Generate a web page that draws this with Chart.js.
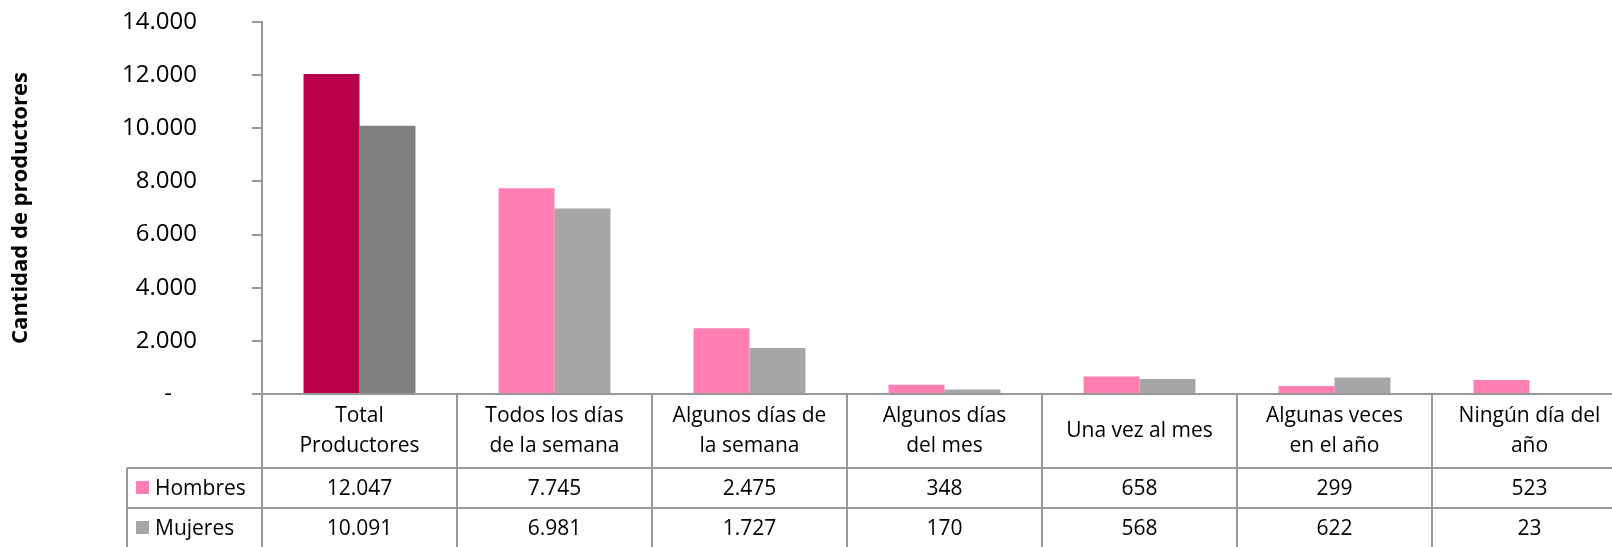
<!DOCTYPE html>
<html>
<head>
<meta charset="utf-8">
<script src="https://cdn.jsdelivr.net/npm/chart.js@4"></script>
<style>
  html, body { margin: 0; padding: 0; background: #fff; }
  #wrap { width: 1612px; height: 547px; overflow: hidden; position: relative; }
</style>
</head>
<body>
<div id="wrap"><canvas id="grafico" width="1640" height="560"></canvas></div>
<script>
// datos
const categorias = [
  ['Total', 'Productores'],
  ['Todos los días', 'de la semana'],
  ['Algunos días de', 'la semana'],
  ['Algunos días', 'del mes'],
  ['Una vez al mes'],
  ['Algunas veces', 'en el año'],
  ['Ningún día del', 'año']
];
const hombres = [12047, 7745, 2475, 348, 658, 299, 523];
const mujeres = [10091, 6981, 1727, 170, 568, 622, 23];
const series = ['Hombres', 'Mujeres'];
const yTicks = [0, 2000, 4000, 6000, 8000, 10000, 12000, 14000];

const colHombres = ['#B8004A', '#FF7FB2', '#FF7FB2', '#FF7FB2', '#FF7FB2', '#FF7FB2', '#FF7FB2'];
const colMujeres = ['#808080', '#A6A6A6', '#A6A6A6', '#A6A6A6', '#A6A6A6', '#A6A6A6', '#A6A6A6'];
const colLeyenda = ['#FF7FB2', '#A6A6A6'];

const LINEA = '#989898';
const FUENTE = '"Open Sans", "Noto Sans", sans-serif';

function miles(n) {
  if (n === 0) return '-';
  return String(n).replace(/\B(?=(\d{3})+(?!\d))/g, '.');
}

// tabla de datos debajo del grafico
const tablaDatos = {
  id: 'tablaDatos',
  afterDraw(chart) {
    const ctx = chart.ctx;
    const x = chart.scales.x;
    const area = chart.chartArea;
    const paso = x.getPixelForValue(1) - x.getPixelForValue(0);
    const base = area.bottom;
    const altoCab = 74, altoFila = 40;
    const izq = 127;
    const filas = [hombres, mujeres];
    const fin = 1640;

    ctx.save();
    ctx.strokeStyle = LINEA;
    ctx.lineWidth = 2;

    // lineas horizontales
    ctx.beginPath();
    ctx.moveTo(area.left, base); ctx.lineTo(fin, base);
    for (let r = 0; r <= filas.length; r++) {
      const y = base + altoCab + r * altoFila;
      ctx.moveTo(izq, y); ctx.lineTo(fin, y);
    }
    // lineas verticales
    for (let i = 0; i <= categorias.length; i++) {
      const xv = x.getPixelForValue(i) - paso / 2;
      ctx.moveTo(xv, base); ctx.lineTo(xv, base + altoCab + filas.length * altoFila);
    }
    ctx.moveTo(izq, base + altoCab); ctx.lineTo(izq, base + altoCab + filas.length * altoFila);
    ctx.stroke();

    // textos
    ctx.fillStyle = '#000';
    ctx.font = '21px ' + FUENTE;
    ctx.textAlign = 'center';
    ctx.textBaseline = 'middle';
    categorias.forEach((lineas, i) => {
      const cx = x.getPixelForValue(i);
      const cy = base + altoCab / 2;
      const lh = 30;
      lineas.forEach((t, k) => {
        ctx.fillText(t, cx, cy + (k - (lineas.length - 1) / 2) * lh);
      });
      filas.forEach((fila, r) => {
        ctx.fillText(miles(fila[i]), cx, base + altoCab + r * altoFila + altoFila / 2 + 1);
      });
    });

    // leyenda en la tabla
    ctx.textAlign = 'left';
    series.forEach((s, r) => {
      const cy = base + altoCab + r * altoFila + altoFila / 2;
      ctx.fillStyle = colLeyenda[r];
      ctx.fillRect(136, cy - 7, 13, 13);
      ctx.fillStyle = '#000';
      ctx.fillText(s, 155, cy + 1);
    });
    ctx.restore();
  }
};

new Chart(document.getElementById('grafico'), {
  type: 'bar',
  data: {
    labels: categorias,
    datasets: [
      { label: series[0], data: hombres, backgroundColor: colHombres, borderWidth: 0 },
      { label: series[1], data: mujeres, backgroundColor: colMujeres, borderWidth: 0 }
    ]
  },
  options: {
    responsive: false,
    animation: false,
    devicePixelRatio: 1,
    layout: { padding: { top: 22, bottom: 166, left: 0, right: 13 } },
    datasets: { bar: { barPercentage: 1, categoryPercentage: 0.574 } },
    plugins: {
      legend: { display: false },
      title: { display: false },
      tooltip: { enabled: false }
    },
    scales: {
      x: { display: false },
      y: {
        min: 0,
        max: 14000,
        afterBuildTicks: (scale) => { scale.ticks = yTicks.map(v => ({ value: v })); },
        afterFit: (scale) => {
          scale.width = 262;
          // el padding de las etiquetas no debe empujar el area hacia abajo
          scale.paddingTop = 0;
          scale.paddingBottom = 0;
        },
        ticks: {
          color: '#000',
          font: { family: FUENTE, size: 24 },
          padding: 55,
          callback: (v) => v === 0 ? '-    ' : miles(v)
        },
        grid: { drawOnChartArea: false, drawTicks: true, tickLength: 10, tickColor: LINEA, lineWidth: 2 },
        border: { display: true, color: LINEA, width: 2 },
        title: {
          display: true,
          text: 'Cantidad de productores',
          color: '#000',
          font: { family: FUENTE, size: 22, weight: 'bold' },
          padding: { top: 8, bottom: 0 }
        }
      }
    }
  },
  plugins: [tablaDatos]
});
</script>
</body>
</html>
